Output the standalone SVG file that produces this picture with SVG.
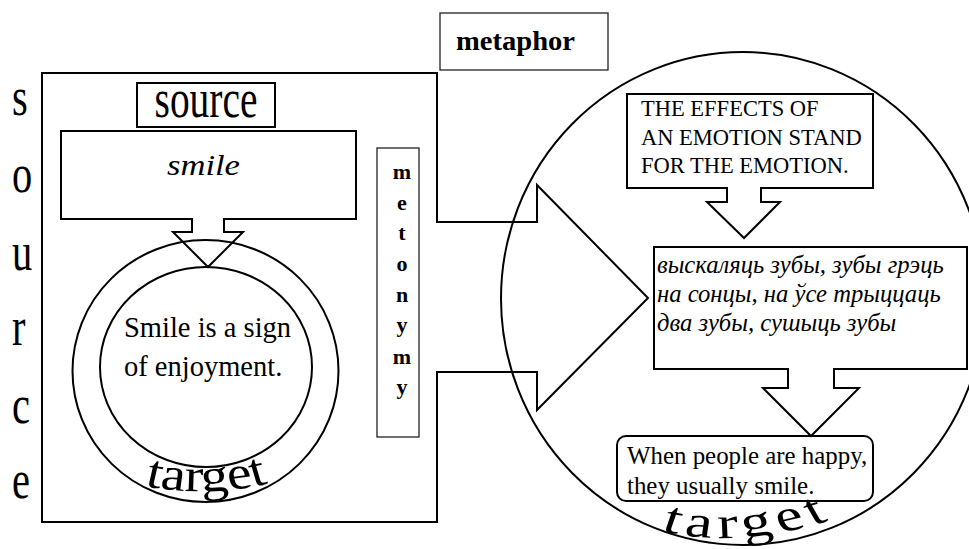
<svg xmlns="http://www.w3.org/2000/svg" width="969" height="549" viewBox="0 0 969 549">
<style>
.sh{fill:none;stroke:#000;stroke-width:2;stroke-linejoin:miter}
.thin{fill:none;stroke:#222;stroke-width:1.3}
.t{font-family:"Liberation Serif",serif;fill:#000}
.it{font-style:italic}
.b{font-weight:bold}
</style>
<defs>
<path id="arcL" d="M-26,-3 Q0,3.9 26,-4.3"/>
<path id="arcR" d="M-31,-0.45 Q-1.9,9.8 31,-6.4"/>
</defs>
<rect width="969" height="549" fill="#fff"/>

<g id="connectors">
<polygon class="sh" points="42,73 437,73 437,222 537,222 537,185 648,298 537,410 537,372 437,372 437,522 42,522"/>
</g>

<g id="source-side-label">
<text class="t" font-size="20" transform="translate(12,115) scale(2.025,2.7)">s</text>
<text class="t" font-size="20" transform="translate(12,192) scale(2.025,2.7)">o</text>
<text class="t" font-size="20" transform="translate(12,270) scale(2.025,2.7)">u</text>
<text class="t" font-size="20" transform="translate(12,345) scale(2.025,2.7)">r</text>
<text class="t" font-size="20" transform="translate(12,423) scale(2.025,2.7)">c</text>
<text class="t" font-size="20" transform="translate(12,498) scale(2.025,2.7)">e</text>
</g>

<g id="source-box">
<rect class="sh" x="137" y="83" width="138" height="44"/>
<text class="t" font-size="20" text-anchor="middle" transform="translate(206,117) scale(1.971,2.7)">source</text>
</g>

<g id="smile">
<polygon class="sh" points="61,131 356,131 356,219 224,219 224,232 243,232 208,267 173,232 192,232 192,219 61,219"/>
<text class="t it" font-size="20" transform="translate(167,175) scale(1.45)" textLength="50.3" lengthAdjust="spacingAndGlyphs">smile</text>
</g>

<g id="target-left">
<ellipse class="sh" cx="205.5" cy="371" rx="133" ry="131"/>
<ellipse class="sh" cx="206" cy="367" rx="106" ry="100"/>
<text class="t" font-size="20" transform="translate(124,337) scale(1.425)">Smile is a sign</text>
<text class="t" font-size="20" transform="translate(124,376) scale(1.425)">of enjoyment.</text>
<g transform="translate(206.5,491) scale(2.78,2.35)">
<text class="t" font-size="20"><textPath href="#arcL" startOffset="50%" text-anchor="middle">target</textPath></text>
</g>
</g>

<g id="metonymy">
<rect class="thin" x="377" y="148" width="42" height="289"/>
<g class="t b" font-size="22" text-anchor="middle">
<text x="402" y="179">m</text>
<text x="402" y="210">e</text>
<text x="402" y="240">t</text>
<text x="402" y="271">o</text>
<text x="402" y="302">n</text>
<text x="402" y="332">y</text>
<text x="402" y="364">m</text>
<text x="402" y="394">y</text>
</g>
</g>

<g id="metaphor">
<rect class="thin" x="440" y="13" width="168" height="57"/>
<text class="t b" font-size="20" transform="translate(456,50) scale(1.4)" textLength="85" lengthAdjust="spacingAndGlyphs">metaphor</text>
</g>

<g id="target-right">
<ellipse class="sh" cx="743" cy="298.5" rx="242" ry="246.5"/>
<g transform="translate(748,530) scale(3.08,2.25)">
<text class="t" font-size="20" letter-spacing="2.2"><textPath href="#arcR" startOffset="50%" text-anchor="middle">target</textPath></text>
</g>
</g>

<g id="effects">
<polygon class="sh" points="627,94 873,94 873,188 761,188 761,202 780,202 744,238 707,202 727,202 727,188 627,188"/>
<text class="t" font-size="22.5" x="641" y="116">THE EFFECTS OF</text>
<text class="t" font-size="22.5" x="641" y="145">AN EMOTION STAND</text>
<text class="t" font-size="22.5" x="641" y="173">FOR THE EMOTION.</text>
</g>

<g id="expressions">
<polygon class="sh" points="654,247 967,247 967,369 834,369 834,388 859,388 811,436 763,388 788,388 788,369 654,369"/>
<text class="t it" font-size="22" transform="translate(657,273) scale(1.12)">выскаляць зубы, зубы грэць</text>
<text class="t it" font-size="22" transform="translate(657,302) scale(1.12)">на сонцы, на ўсе трыццаць</text>
<text class="t it" font-size="22" transform="translate(657,331) scale(1.12)">два зубы, сушыць зубы</text>
</g>

<g id="conclusion">
<rect class="sh" x="617" y="436" width="256" height="65" rx="9" ry="9"/>
<text class="t" font-size="23.5" transform="translate(627,464) scale(1.06)">When people are happy,</text>
<text class="t" font-size="23.5" transform="translate(627,494) scale(1.06)">they usually smile.</text>
</g>
</svg>
